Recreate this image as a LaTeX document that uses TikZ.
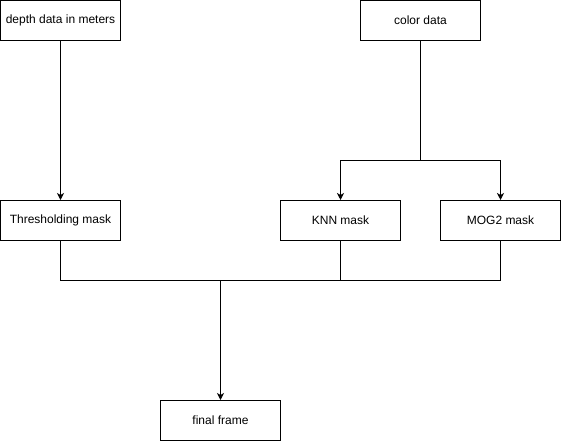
\documentclass[tikz,border=0pt]{standalone}
\usepackage{fontspec}
\setmainfont{Liberation Sans}
\usetikzlibrary{arrows.meta}
\begin{document}
\begin{tikzpicture}[x=1pt,y=-1pt,
  box/.style={draw,line width=1pt,minimum width=120pt,minimum height=40pt,inner sep=0pt,font=\fontsize{12pt}{14pt}\selectfont},
  conn/.style={line width=1pt},
  arr/.style={conn,-{Stealth[length=7pt,width=7pt,inset=2pt]}}]
\useasboundingbox (0,0) rectangle (561,441);
\node[box] (depth) at (60.5,20.5) {depth data in meters};
\node[box] (color) at (420.5,20.5) {color data};
\node[box] (thr) at (60.5,220.5) {Thresholding mask};
\node[box] (knn) at (340.5,220.5) {KNN mask};
\node[box] (mog) at (500.5,220.5) {MOG2 mask};
\node[box] (final) at (220.5,420.5) {final frame};
\coordinate (split) at (420.5,160.5);
\coordinate (join) at (220.5,280.5);
\draw[arr] (depth) -- (thr);
\draw[arr] (color.south) -- (split) -| (knn.north);
\draw[arr] (split) -| (mog.north);
\draw[conn] (thr.south) |- (join);
\draw[conn] (knn.south) |- (join);
\draw[conn] (mog.south) |- (join);
\draw[arr] (join) -- (final.north);
\end{tikzpicture}
\end{document}
